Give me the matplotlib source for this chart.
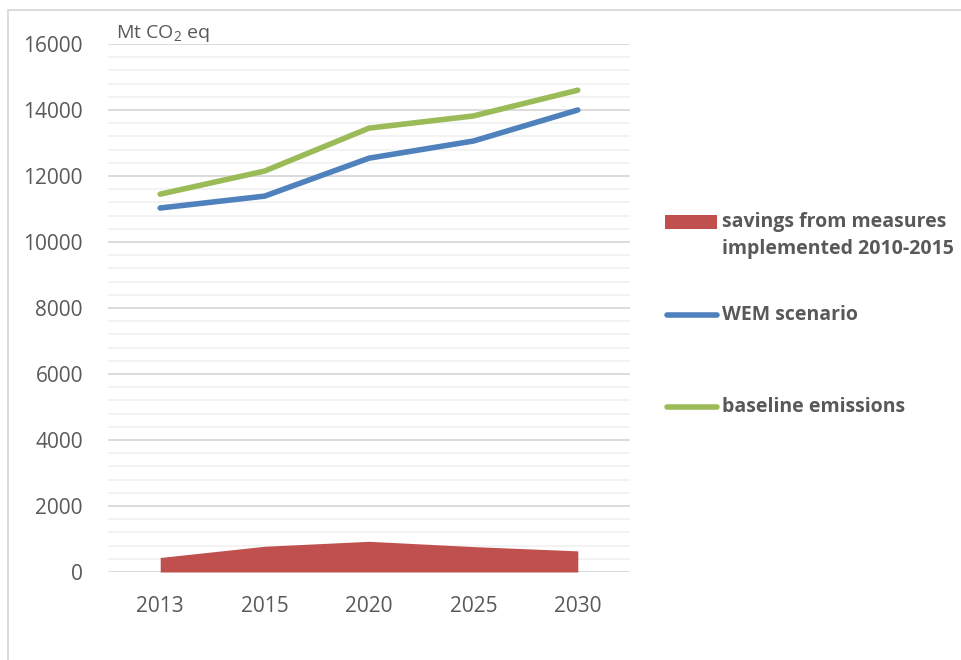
import matplotlib.pyplot as plt
import matplotlib.patches as mpatches
from matplotlib.lines import Line2D
from matplotlib.ticker import MultipleLocator

# data
years = ["2013", "2015", "2020", "2025", "2030"]
savings = [440, 780, 930, 770, 640]
wem = [11030, 11390, 12540, 13060, 14000]
baseline = [11450, 12150, 13450, 13820, 14600]

red = "#c0504d"
blue = "#4f81bd"
green = "#9bbb59"
grey = "#595959"

plt.rcParams["font.family"] = ["Open Sans", "DejaVu Sans"]

W, H = 961, 660
fig = plt.figure(figsize=(9.61, 6.6), dpi=100)
ax = fig.add_axes([108 / W, 1 - 572 / H, (630 - 108) / W, (572 - 44) / H])

x = list(range(len(years)))
ax.fill_between(x, 0, savings, color=red, lw=0, zorder=3)
ax.plot(x, wem, color=blue, lw=4, solid_capstyle="round", zorder=4)
ax.plot(x, baseline, color=green, lw=4, solid_capstyle="round", zorder=4)

ax.set_xlim(-0.5, 4.5)
ax.set_ylim(0, 16000)
ax.yaxis.set_major_locator(MultipleLocator(2000))
ax.yaxis.set_minor_locator(MultipleLocator(400))
ax.set_xticks(x)
ax.set_xticklabels(years)
ax.grid(True, which="major", axis="y", color="#d9d9d9", lw=1.3, zorder=0)
ax.grid(True, which="minor", axis="y", color="#f2f2f2", lw=1.3, zorder=0)
ax.set_axisbelow(True)
for s in ax.spines.values():
    s.set_visible(False)
ax.tick_params(axis="both", which="both", length=0, labelsize=15, labelcolor=grey)
ax.tick_params(axis="x", pad=17)
ax.tick_params(axis="y", pad=18)

fig.text(116 / W, 1 - 33 / H, r"Mt CO$_\mathregular{2}$ eq",
         fontsize=14, color=grey, va="center", ha="left")

# legend, drawn by hand so it sits where the original does
def fy(py):
    return 1 - py / H

fig.patches.append(mpatches.Rectangle((665 / W, fy(229)), 52 / W, 14 / H,
                                      transform=fig.transFigure, color=red, lw=0))
fig.lines.append(Line2D([667 / W, 717 / W], [fy(315), fy(315)], transform=fig.transFigure,
                        color=blue, lw=4, solid_capstyle="round"))
fig.lines.append(Line2D([667 / W, 717 / W], [fy(407), fy(407)], transform=fig.transFigure,
                        color=green, lw=4, solid_capstyle="round"))
legend_kw = dict(fontsize=14, fontweight="bold", color=grey, va="center", ha="left")
fig.text(722 / W, fy(222), "savings from measures", **legend_kw)
fig.text(722 / W, fy(249), "implemented 2010-2015", **legend_kw)
fig.text(722 / W, fy(315), "WEM scenario", **legend_kw)
fig.text(722 / W, fy(407), "baseline emissions", **legend_kw)

# outer chart border
fig.patches.append(mpatches.Rectangle((8 / W, -0.05), 1.0, 1 - 10 / H + 0.05,
                                      transform=fig.transFigure, fill=False,
                                      edgecolor="#d9d9d9", lw=1.3))

fig.savefig("out.png", dpi=100)
